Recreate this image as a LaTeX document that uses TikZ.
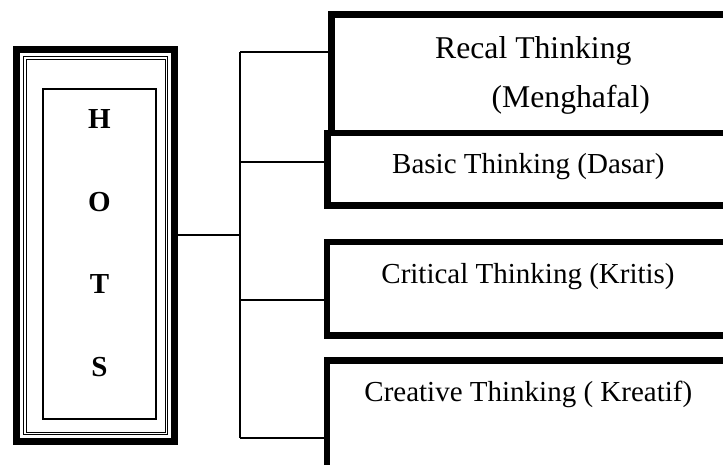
\documentclass[tikz,border=0pt]{standalone}
\usepackage{fontspec}
\setmainfont{Liberation Serif}

\begin{document}
\begin{tikzpicture}[
		    x=1pt, y=-1pt,
		    every node/.style={inner sep=0pt, outer sep=0pt},
		    kotak/.style={draw, line width=6.5pt, minimum width=420pt, anchor=north west},
		    garis/.style={line width=1.2pt}
		]
		\tikzset{
		    teks/.style={font=\fontsize{29}{35}\selectfont, anchor=base},
		    teksbesar/.style={font=\fontsize{31.7}{40}\selectfont, anchor=base},
		    huruf/.style={font=\fontsize{29}{82.5}\selectfont\bfseries, align=center}
		}
		\useasboundingbox (0,0) rectangle (723,464);
		\clip (0,0) rectangle (723,464);
		% kotak HOTS
		\node[draw, line width=7pt, minimum width=158pt, minimum height=392pt] (hots) at (95.5,245.5) {};
		\draw[line width=1pt] (23.5,56.5) rectangle (167.5,434.5);
		\draw[line width=1pt] (26,59) rectangle (165,432);
		\node[draw, line width=2pt, minimum width=113pt, minimum height=330pt] (dalam) at (99.5,254) {};
		\node[huruf] (hurufhots) at (99.5,243) {H\\O\\T\\S};
		% kotak kanan
		\node[kotak, minimum height=118.5pt] (recal) at (331.5,14.5) {};
		\node[kotak, minimum height=72.5pt] (basic) at (327.5,133) {};
		\node[kotak, minimum height=93.5pt] (kritis) at (327,242) {};
		\node[kotak, minimum height=120pt] (kreatif) at (327,360.5) {};
		\node[teksbesar] (recal-t) at (533.3,58) {Recal Thinking};
		\node[teksbesar] (menghafal-t) at (570.8,107) {(Menghafal)};
		\node[teks] (basic-t) at (528.3,173) {Basic Thinking (Dasar)};
		\node[teks] (kritis-t) at (528,283) {Critical Thinking (Kritis)};
		\node[teks] (kreatif-t) at (528.3,401.5) {Creative Thinking ( Kreatif)};
		% garis
		\coordinate (pusat) at (240,235);
		\coordinate (atas) at (240,52);
		\coordinate (bawah) at (240,438);
		\draw[garis] (hots.east |- pusat) -- (pusat);
		\draw[garis] (atas) -- (bawah);
		\foreach \y/\nama in {52/recal, 162/basic, 300/kritis, 438/kreatif} {
		    \coordinate (cabang) at (240,\y);
		    \draw[garis] (cabang) -- (cabang -| \nama.west);
		}
		\end{tikzpicture}
\end{document}
